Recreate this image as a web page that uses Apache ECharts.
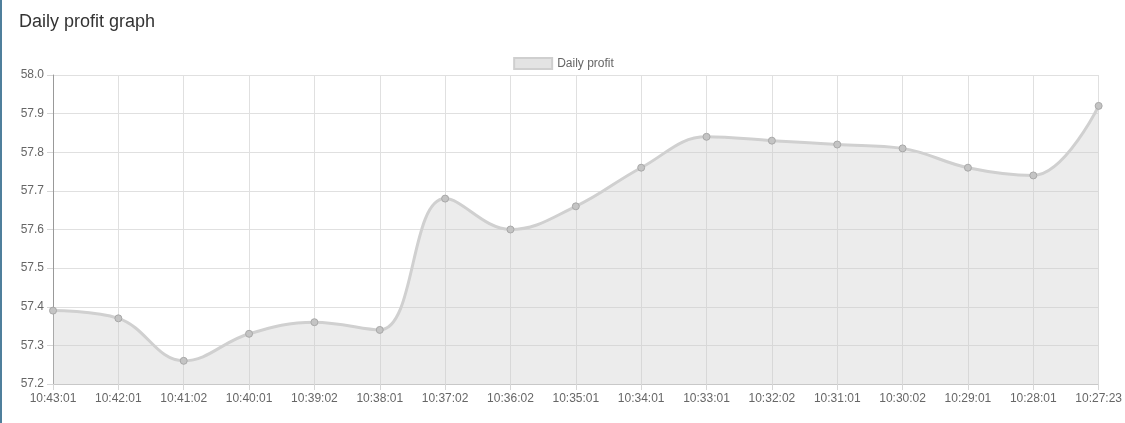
<!DOCTYPE html>
<html>
<head>
<meta charset="utf-8">
<script src="https://cdn.jsdelivr.net/npm/echarts@6/dist/echarts.min.js"></script>
<style>
  html, body { margin: 0; padding: 0; background: #fff; }
  #wrap { width: 1123px; height: 423px; border-left: 2px solid #4f7f9c; position: relative; }
  #chart { width: 1123px; height: 423px; }
</style>
</head>
<body>
<div id="wrap"><div id="chart"></div></div>
<script>
// horas (eje x) y ganancia diaria
const labels = ['10:43:01','10:42:01','10:41:02','10:40:01','10:39:02','10:38:01','10:37:02','10:36:02','10:35:01','10:34:01','10:33:01','10:32:02','10:31:01','10:30:02','10:29:01','10:28:01','10:27:23'];
const profit = [57.39, 57.37, 57.26, 57.33, 57.36, 57.34, 57.68, 57.60, 57.66, 57.76, 57.84, 57.83, 57.82, 57.81, 57.76, 57.74, 57.92];

const font = 'Helvetica Neue, Helvetica, Arial, Liberation Sans, sans-serif';
const chart = echarts.init(document.getElementById('chart'), null, { renderer: 'canvas' });

chart.setOption({
  animation: false,
  title: {
    text: 'Daily profit graph',
    left: 12, top: 8,
    textStyle: { fontFamily: font, fontSize: 18, fontWeight: 'normal', color: '#333' }
  },
  legend: {
    data: ['Daily profit'],
    top: 52, left: 'center',
    itemWidth: 38, itemHeight: 11, itemGap: 8,
    icon: 'rect',
    itemStyle: { color: '#e3e3e3', borderColor: '#cfcfcf', borderWidth: 2 },
    textStyle: { fontFamily: font, fontSize: 12, color: '#666' }
  },
  grid: { left: 51, right: 21, top: 75, bottom: 39, containLabel: false },
  xAxis: {
    type: 'category',
    data: labels,
    boundaryGap: false,
    axisLine: { show: true, lineStyle: { color: '#c8c8c8' } },
    axisTick: { show: true, length: 6, lineStyle: { color: '#d6d6d6' } },
    axisLabel: { fontFamily: font, fontSize: 12, color: '#666', margin: 9, interval: 0 },
    splitLine: { show: true, lineStyle: { color: '#e0e0e0' } }
  },
  yAxis: {
    type: 'value',
    min: 57.2, max: 58.0, interval: 0.1,
    axisLine: { show: true, lineStyle: { color: '#999' } },
    axisTick: { show: true, length: 6, lineStyle: { color: '#d6d6d6' } },
    axisLabel: { fontFamily: font, fontSize: 12, color: '#666', margin: 9,
      formatter: v => v.toFixed(1) },
    splitLine: { show: true, lineStyle: { color: '#e0e0e0' } }
  },
  series: [{
    name: 'Daily profit',
    type: 'line',
    data: profit,
    smooth: 0.4,
    symbol: 'circle',
    symbolSize: 7,
    lineStyle: { color: '#d0d0d0', width: 3 },
    itemStyle: { color: '#c4c4c4', borderColor: '#a8a8a8', borderWidth: 1 },
    areaStyle: { color: 'rgba(200,200,200,0.5)' }
  }]
});
</script>
</body>
</html>
